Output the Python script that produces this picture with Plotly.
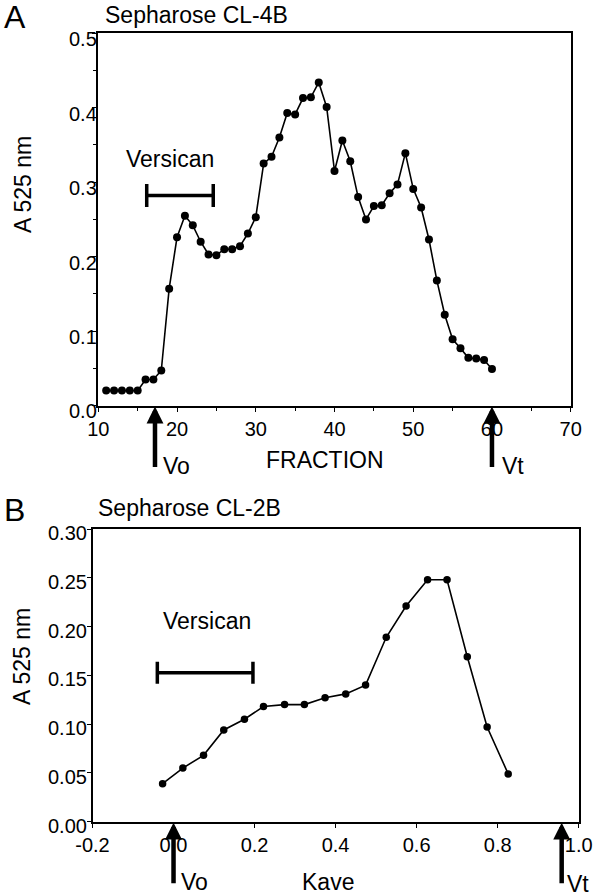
import plotly.graph_objects as go

# ---------------- data ----------------
frac_a = list(range(11, 61))
abs_a = [0.020, 0.020, 0.020, 0.020, 0.020, 0.035, 0.035, 0.047, 0.157, 0.226,
         0.255, 0.242, 0.220, 0.203, 0.202, 0.210, 0.210, 0.214, 0.231, 0.253,
         0.325, 0.334, 0.360, 0.393, 0.391, 0.413, 0.414, 0.434, 0.401, 0.315,
         0.356, 0.328, 0.280, 0.250, 0.268, 0.269, 0.285, 0.297, 0.339, 0.291,
         0.266, 0.223, 0.168, 0.122, 0.089, 0.077, 0.064, 0.063, 0.061, 0.049]

kave_b = [-0.027, 0.023, 0.074, 0.124, 0.175, 0.222, 0.274, 0.323, 0.374,
          0.425, 0.474, 0.525, 0.574, 0.627, 0.675, 0.725, 0.774, 0.826]
abs_b = [0.039, 0.055, 0.068, 0.094, 0.105, 0.118, 0.120, 0.120, 0.127,
         0.131, 0.140, 0.189, 0.221, 0.248, 0.248, 0.169, 0.097, 0.049]

yticks_a = [0.0, 0.1, 0.2, 0.3, 0.4, 0.5]
yticklabels_a = ["0.0", "0.1", "0.2", "0.3", "0.4", "0.5"]
yticks_b = [0.0, 0.05, 0.10, 0.15, 0.20, 0.25, 0.30]
yticklabels_b = ["0.00", "0.05", "0.10", "0.15", "0.20", "0.25", "0.30"]
xticks_b = [-0.2, 0.0, 0.2, 0.4, 0.6, 0.8, 1.0]
xticklabels_b = ["-0.2", "0.0", "0.2", "0.4", "0.6", "0.8", "1.0"]

versican_a = [16.15, 24.6]
versican_a_y = 0.282
versican_b = [-0.040, 0.196]
versican_b_y = 0.1527
vo_a, vt_a = 17.2, 60.0
vo_b, vt_b = 0.0, 0.958

W, H = 600, 896
FONT = "Liberation Sans, Arial, sans-serif"

def px(x):
    return x / W

def py(y):
    return 1 - y / H

# plot box pixels
A_L, A_R, A_T, A_B = 98.3, 570.7, 33.3, 405.5
B_L, B_R, B_T, B_B = 92.5, 578.7, 529.0, 821.7

fig = go.Figure()
fig.add_trace(go.Scatter(x=frac_a, y=abs_a, mode="lines+markers",
                         line=dict(color="black", width=1.6),
                         marker=dict(color="black", size=8),
                         xaxis="x", yaxis="y", showlegend=False))
fig.add_trace(go.Scatter(x=kave_b, y=abs_b, mode="lines+markers",
                         line=dict(color="black", width=1.6),
                         marker=dict(color="black", size=7.5),
                         xaxis="x2", yaxis="y2", showlegend=False))

TICKFONT = dict(family=FONT, size=20, color="black")
axis_common = dict(showline=True, linecolor="black", linewidth=2, mirror=True,
                   showgrid=False, zeroline=False, ticks="outside", ticklen=4,
                   tickwidth=1.2, tickcolor="black", automargin=False,
                   tickfont=TICKFONT)

fig.update_layout(
    width=W, height=H, margin=dict(l=0, r=0, t=0, b=0, autoexpand=False),
    paper_bgcolor="white", plot_bgcolor="white",
    xaxis=dict(domain=[px(A_L), px(A_R)], range=[10, 70], dtick=10, tick0=10,
               minor=dict(dtick=5, ticks="outside", ticklen=3, tickcolor="black"),
               anchor="y", **axis_common),
    yaxis=dict(domain=[py(A_B), py(A_T)], range=[0, 0.5], tickmode="array",
               tickvals=yticks_a, showticklabels=False,
               minor=dict(dtick=0.05, ticks="outside", ticklen=3, tickcolor="black"),
               anchor="x", **axis_common),
    xaxis2=dict(domain=[px(B_L), px(B_R)], range=[-0.2, 1.0],
                tickmode="array", tickvals=xticks_b, ticktext=xticklabels_b,
                anchor="y2", **axis_common),
    yaxis2=dict(domain=[py(B_B), py(B_T)], range=[0, 0.30], tickmode="array",
                tickvals=yticks_b, showticklabels=False, anchor="x2", **axis_common),
)

shapes = []
# versican bars
for xr, yv, xref, yref, cap in [(versican_a, versican_a_y, "x", "y", 0.0155),
                                (versican_b, versican_b_y, "x2", "y2", 0.0113)]:
    shapes.append(dict(type="line", xref=xref, yref=yref, x0=xr[0], x1=xr[1],
                       y0=yv, y1=yv, line=dict(color="black", width=3.5)))
    for xe in xr:
        shapes.append(dict(type="line", xref=xref, yref=yref, x0=xe, x1=xe,
                           y0=yv - cap, y1=yv + cap, line=dict(color="black", width=3.5)))
fig.update_layout(shapes=shapes)

ann = []
def text(x, y, s, size, xanchor="center", yanchor="middle", angle=0,
         xref="paper", yref="paper", yshift=0):
    ann.append(dict(x=x, y=y, xref=xref, yref=yref, text=s, showarrow=False,
                    xanchor=xanchor, yanchor=yanchor, textangle=angle, borderpad=0,
                    yshift=yshift, font=dict(family=FONT, size=size, color="black")))

# y tick labels (sit slightly below their ticks, as in the reference)
for v, s in zip(yticks_a, yticklabels_a):
    text(px(97.5), v, s, 20, xanchor="right", yref="y", yshift=-6)
for v, s in zip(yticks_b, yticklabels_b):
    text(px(88), v, s, 20, xanchor="right", yref="y2", yshift=-4)

# panel letters & titles
text(px(15), py(17), "A", 32)
text(px(14), py(510), "B", 32)
text(px(104), py(15), "Sepharose CL-4B", 23, xanchor="left")
text(px(97), py(508), "Sepharose CL-2B", 23, xanchor="left")
# y titles
text(px(23), py(185), "A 525 nm", 23, angle=-90)
text(px(22), py(657), "A 525 nm", 23, angle=-90)
# x titles
text(px(325), py(460), "FRACTION", 23)
text(px(328), py(882), "Kave", 23)
# Versican labels
text(19.06, 0.331, "Versican", 23, xref="x", yref="y")
text(0.082, 0.2057, "Versican", 23, xref="x2", yref="y2")
# Vo / Vt labels
text(px(162), py(466), "Vo", 23, xanchor="left")
text(px(501), py(466), "Vt", 23, xanchor="left")
text(px(180), py(882), "Vo", 23, xanchor="left")
text(px(566), py(884), "Vt", 23, xanchor="left")

# arrows (tip on axis, tail below)
for xv, xref, ybot, length in [(vo_a, "x", A_B, 62), (vt_a, "x", A_B, 62),
                               (vo_b, "x2", B_B, 62), (vt_b, "x2", B_B, 62)]:
    ann.append(dict(x=xv, y=py(ybot + 1), xref=xref, yref="paper", text="",
                    showarrow=True, arrowhead=2, arrowsize=0.75, arrowwidth=4.5,
                    arrowcolor="black", ax=0, ay=length, standoff=0))
fig.update_layout(annotations=ann)

fig.write_html("out.html", config={"displayModeBar": False},
               post_script="document.body.style.margin='0';document.body.style.overflow='hidden';")
